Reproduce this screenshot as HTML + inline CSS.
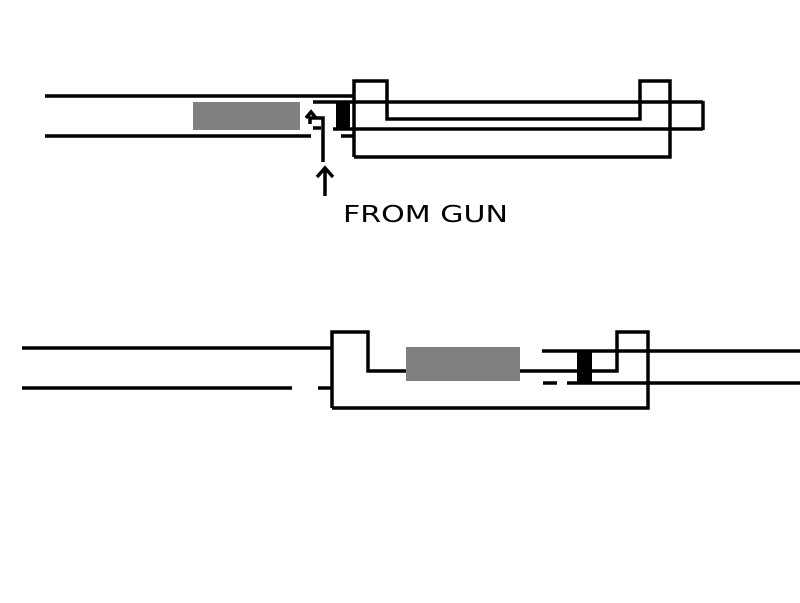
<!DOCTYPE html>
<html><head><style>body{margin:0;background:#fff}svg{display:block}</style></head><body>
<svg width="800" height="603" viewBox="0 0 800 603" xmlns="http://www.w3.org/2000/svg">
<rect width="800" height="603" fill="#fff"/>
<g stroke="#000" stroke-width="3.5" fill="none">
<!-- top figure -->
<line x1="45" y1="96" x2="354" y2="96"/>
<line x1="45" y1="136" x2="311" y2="136"/>
<line x1="341" y1="136" x2="353" y2="136"/>
<line x1="313" y1="102" x2="703" y2="102"/>
<line x1="333" y1="129" x2="703" y2="129"/>
<line x1="703" y1="101" x2="703" y2="130"/>
<line x1="313" y1="128" x2="321" y2="128"/>
<polyline points="354,157 354,81 387,81 387,119 640,119 640,81 670,81 670,157 354,157"/>
<polyline points="323,162 323,118 310,118 310,124"/>
<polyline points="306,118 311,112 316,118"/>
<line x1="325" y1="168" x2="325" y2="196"/>
<polyline points="317,177 325,168 333,177"/>
<!-- bottom figure -->
<line x1="22" y1="348" x2="332" y2="348"/>
<line x1="22" y1="388" x2="292" y2="388"/>
<line x1="318" y1="388" x2="331" y2="388"/>
<polyline points="332,408 332,332 368,332 368,371 617,371 617,332 648,332 648,408 332,408"/>
<line x1="542" y1="351" x2="800" y2="351"/>
<line x1="567" y1="383" x2="800" y2="383"/>
<line x1="543" y1="383" x2="557" y2="383"/>
</g>
<rect x="193" y="102" width="107" height="28" fill="#808080"/>
<rect x="336" y="101" width="14" height="28" fill="#000"/>
<rect x="406" y="347" width="114" height="34" fill="#808080"/>
<rect x="577" y="351" width="15" height="33" fill="#000"/>
<text x="343" y="222" font-family="DejaVu Sans, sans-serif" font-size="23" textLength="165" lengthAdjust="spacingAndGlyphs" fill="#000">FROM GUN</text>
</svg>
</body></html>
